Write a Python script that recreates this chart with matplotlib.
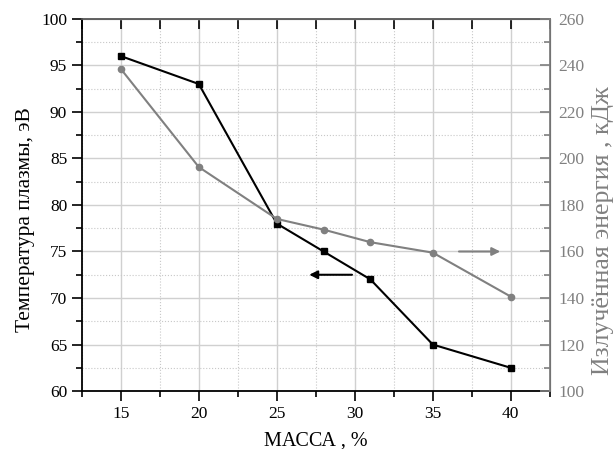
import numpy as np
import matplotlib.pyplot as plt
from matplotlib.ticker import MultipleLocator

plt.rcParams['font.family'] = ['Liberation Serif', 'DejaVu Serif']

# data
mass = [15, 20, 25, 28, 31, 35, 40]
temp = [96, 93, 78, 75, 72, 65, 62.5]
energy = [238.5, 196.3, 174, 169.4, 164, 159.5, 140.6]

gray = '#808080'

fig = plt.figure(figsize=(6.15, 4.49), dpi=100)
ax = fig.add_axes([0.133, 0.129, 0.761, 0.829])
ax2 = ax.twinx()

ax.set_xlim(12.5, 42.5)
ax.set_ylim(60, 100)
ax2.set_ylim(100, 260)

ax.xaxis.set_major_locator(MultipleLocator(5))
ax.xaxis.set_minor_locator(MultipleLocator(2.5))
ax.yaxis.set_major_locator(MultipleLocator(5))
ax.yaxis.set_minor_locator(MultipleLocator(2.5))
ax2.yaxis.set_major_locator(MultipleLocator(20))
ax2.yaxis.set_minor_locator(MultipleLocator(10))

ax.grid(which='major', color='#d0d0d0', lw=1.0)
ax.grid(which='minor', color='#c8c8c8', lw=0.8, ls=':')
ax.set_axisbelow(True)

ax.plot(mass, temp, color='black', lw=1.5, marker='s', ms=4.5, zorder=3)
ax2.plot(mass, energy, color=gray, lw=1.5, marker='o', ms=4.5, zorder=3)

ax.annotate('', xy=(26.9, 72.5), xytext=(30, 72.5),
            arrowprops=dict(arrowstyle='-|>', color='black', lw=1.5, mutation_scale=12))
ax2.annotate('', xy=(39.5, 160), xytext=(36.5, 160),
             arrowprops=dict(arrowstyle='-|>', color=gray, lw=1.5, mutation_scale=12))

ax.tick_params(axis='both', which='major', direction='out', length=7, width=1.2, labelsize=12.5)
ax.tick_params(axis='both', which='minor', direction='out', length=4.5, width=1.2)
ax.tick_params(axis='x', which='both', top=True, labeltop=False)
ax2.tick_params(axis='y', which='major', direction='in', length=7, width=1.2,
                colors=gray, labelsize=12.5, pad=6)
ax2.tick_params(axis='y', which='minor', direction='in', length=4.5, width=1.2, colors=gray)

# top ticks point inward
for t in ax.xaxis.get_major_ticks() + ax.xaxis.get_minor_ticks():
    t.tick2line.set_marker(3)
    t.tick2line.set_markersize(7)
    t.tick2line.set_color('#333333')

for s in ['left', 'bottom']:
    ax.spines[s].set_linewidth(1.3)
ax.spines['top'].set_linewidth(1.3)
ax.spines['top'].set_color('#555555')
ax2.spines['right'].set_color(gray)
ax2.spines['right'].set_linewidth(1.3)
ax2.spines['left'].set_visible(False)
ax2.spines['top'].set_visible(False)
ax2.spines['bottom'].set_visible(False)

ax.set_xlabel('МАССА , %', fontsize=14.5, labelpad=7)
ax.set_ylabel('Температура плазмы, эВ', fontsize=15.5)
ax.yaxis.set_label_coords(-0.10, 0.46)
ax2.set_ylabel('Излучённая энергия , кДж', fontsize=18.5, color=gray)
ax2.yaxis.set_label_coords(1.09, 0.43)

fig.savefig('out.png', dpi=100)
